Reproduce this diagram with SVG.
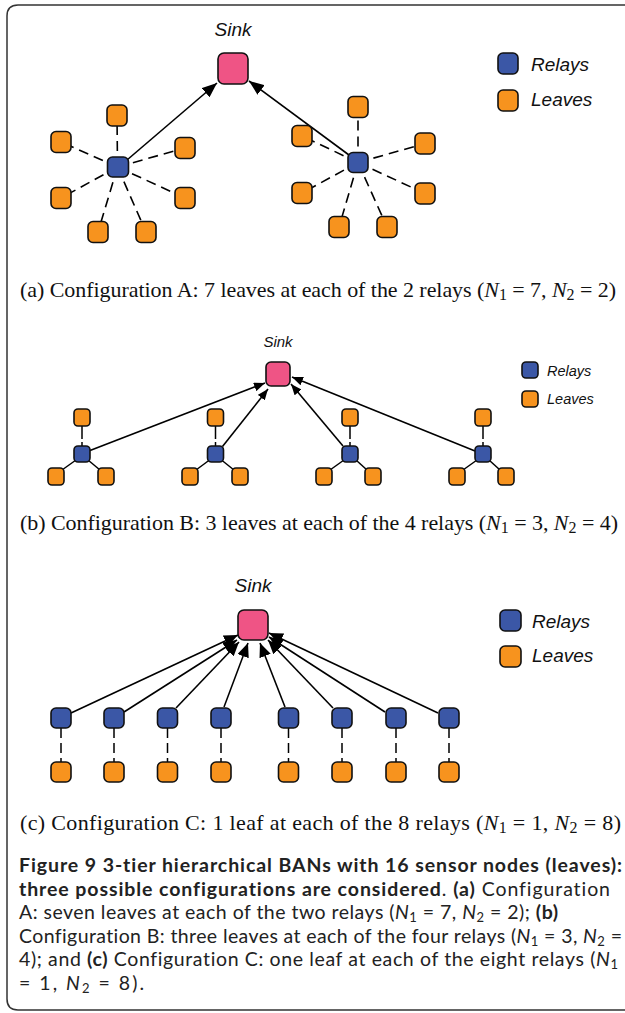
<svg xmlns="http://www.w3.org/2000/svg" width="625" height="1013" viewBox="0 0 625 1013">
<style>
.nd{stroke:#111;stroke-width:1.6}
.sink{fill:#EF5485}
.relay{fill:#3B57A6}
.leaf{fill:#F7931E}
.lbl{font-family:"Liberation Sans",Arial,sans-serif;font-style:italic;fill:#111}
.arr{stroke:#000;stroke-width:1.6;fill:none}
.dash{stroke:#000;stroke-width:1.6;fill:none;stroke-dasharray:10 6}
.sol{stroke:#000;stroke-width:1.5;fill:none}
.sub{font-family:"Liberation Serif","Times New Roman",serif;font-size:22px;fill:#111}
.cap{font-family:Lato,"Open Sans",sans-serif;font-size:19.5px;fill:#222;font-variant-ligatures:none}
.b{font-weight:bold}
.i{font-style:italic}
</style>
<defs>
<marker id="ahA" markerUnits="userSpaceOnUse" markerWidth="15" markerHeight="12" refX="15" refY="6" orient="auto"><path d="M0,0 L15,6 L0,12 z" fill="#000"/></marker>
<marker id="ahB" markerUnits="userSpaceOnUse" markerWidth="11" markerHeight="9" refX="11" refY="4.5" orient="auto"><path d="M0,0 L11,4.5 L0,9 z" fill="#000"/></marker>
<marker id="ahC" markerUnits="userSpaceOnUse" markerWidth="14" markerHeight="12" refX="14" refY="6" orient="auto"><path d="M0,0 L14,6 L0,12 z" fill="#000"/></marker>
</defs>
<rect x="0" y="0" width="625" height="1013" fill="#fff"/>
<path id="frame" d="M626,5 H18 Q7,5 7,16 V999 Q7,1010 18,1010 H626" fill="none" stroke="#333" stroke-width="1.5"/>

<!-- ============ connectors ============ -->
<g id="connectors">
 <!-- panel A dashed -->
 <g class="dash">
  <line x1="117.5" y1="167" x2="117" y2="115.5"/>
  <line x1="117.5" y1="167" x2="61" y2="142"/>
  <line x1="117.5" y1="167" x2="185" y2="148"/>
  <line x1="117.5" y1="167" x2="61" y2="198"/>
  <line x1="117.5" y1="167" x2="185" y2="198"/>
  <line x1="117.5" y1="167" x2="98" y2="232"/>
  <line x1="117.5" y1="167" x2="146" y2="232"/>
  <line x1="358" y1="162.5" x2="358" y2="107"/>
  <line x1="358" y1="162.5" x2="302" y2="136"/>
  <line x1="358" y1="162.5" x2="425" y2="143.5"/>
  <line x1="358" y1="162.5" x2="302" y2="193"/>
  <line x1="358" y1="162.5" x2="425" y2="193.5"/>
  <line x1="358" y1="162.5" x2="339" y2="227"/>
  <line x1="358" y1="162.5" x2="387" y2="227"/>
 </g>
 <line class="arr" x1="127" y1="160" x2="217" y2="83" marker-end="url(#ahA)"/>
 <line class="arr" x1="349" y1="155" x2="249" y2="81" marker-end="url(#ahA)"/>

 <!-- panel B -->
 <g class="sol">
  <line x1="82" y1="425" x2="82" y2="446" stroke-dasharray="14 3"/>
  <line x1="76" y1="460" x2="62" y2="470"/>
  <line x1="88" y1="460" x2="100" y2="470"/>
  <line x1="215.5" y1="425" x2="215.5" y2="446" stroke-dasharray="14 3"/>
  <line x1="209.5" y1="460" x2="196" y2="470"/>
  <line x1="221.5" y1="460" x2="234" y2="470"/>
  <line x1="350" y1="425" x2="350" y2="446" stroke-dasharray="14 3"/>
  <line x1="344" y1="460" x2="330" y2="470"/>
  <line x1="356" y1="460" x2="367" y2="470"/>
  <line x1="483" y1="425" x2="483" y2="446" stroke-dasharray="14 3"/>
  <line x1="477" y1="460" x2="463" y2="470"/>
  <line x1="489" y1="460" x2="500" y2="470"/>
 </g>
 <line class="arr" x1="90" y1="450.5" x2="265" y2="383" marker-end="url(#ahB)"/>
 <line class="arr" x1="222.5" y1="446.5" x2="268" y2="389" marker-end="url(#ahB)"/>
 <line class="arr" x1="343" y1="446" x2="291" y2="384" marker-end="url(#ahB)"/>
 <line class="arr" x1="475" y1="451" x2="292" y2="377" marker-end="url(#ahB)"/>

 <!-- panel C -->
 <g class="sol" stroke-dasharray="10 5">
  <line x1="61" y1="728" x2="61" y2="762"/>
  <line x1="114" y1="728" x2="114" y2="762"/>
  <line x1="167.5" y1="728" x2="167.5" y2="762"/>
  <line x1="221" y1="728" x2="221" y2="762"/>
  <line x1="288.5" y1="728" x2="288.5" y2="762"/>
  <line x1="342" y1="728" x2="342" y2="762"/>
  <line x1="396" y1="728" x2="396" y2="762"/>
  <line x1="449" y1="728" x2="449" y2="762"/>
 </g>
 <line class="arr" x1="71" y1="713" x2="238" y2="635" marker-end="url(#ahC)"/>
 <line class="arr" x1="124" y1="712" x2="237" y2="640" marker-end="url(#ahC)"/>
 <line class="arr" x1="176" y1="708" x2="239" y2="642" marker-end="url(#ahC)"/>
 <line class="arr" x1="224" y1="707" x2="248" y2="643" marker-end="url(#ahC)"/>
 <line class="arr" x1="285" y1="707" x2="260" y2="643" marker-end="url(#ahC)"/>
 <line class="arr" x1="333" y1="708" x2="268" y2="640" marker-end="url(#ahC)"/>
 <line class="arr" x1="385" y1="712" x2="269" y2="637" marker-end="url(#ahC)"/>
 <line class="arr" x1="438" y1="713" x2="269" y2="633" marker-end="url(#ahC)"/>
</g>

<!-- ============ panel A nodes ============ -->
<g id="A-sink"><rect class="nd sink" x="218" y="53" width="30" height="31" rx="6"/><text class="lbl" x="233" y="36" font-size="19" text-anchor="middle">Sink</text></g>
<g id="A-relay1"><rect class="nd relay" x="107.5" y="157" width="21" height="20" rx="5"/></g>
<g id="A-relay2"><rect class="nd relay" x="348" y="152.5" width="20" height="20" rx="5"/></g>
<g id="A-leaves1">
 <rect class="nd leaf" x="107" y="105" width="20" height="21" rx="5"/>
 <rect class="nd leaf" x="51" y="131.5" width="20" height="21" rx="5"/>
 <rect class="nd leaf" x="175" y="137.5" width="20" height="21" rx="5"/>
 <rect class="nd leaf" x="51" y="187.5" width="20" height="21" rx="5"/>
 <rect class="nd leaf" x="175" y="187.5" width="20" height="21" rx="5"/>
 <rect class="nd leaf" x="88" y="221.5" width="20" height="21" rx="5"/>
 <rect class="nd leaf" x="136" y="221.5" width="20" height="21" rx="5"/>
</g>
<g id="A-leaves2">
 <rect class="nd leaf" x="348" y="96.5" width="20" height="21" rx="5"/>
 <rect class="nd leaf" x="292" y="125.5" width="20" height="21" rx="5"/>
 <rect class="nd leaf" x="415" y="133" width="20" height="21" rx="5"/>
 <rect class="nd leaf" x="292" y="182.5" width="20" height="21" rx="5"/>
 <rect class="nd leaf" x="415" y="183" width="20" height="21" rx="5"/>
 <rect class="nd leaf" x="329" y="216.5" width="20" height="21" rx="5"/>
 <rect class="nd leaf" x="377" y="216.5" width="20" height="21" rx="5"/>
</g>
<g id="A-legend">
 <rect class="nd relay" x="498" y="53" width="20" height="21" rx="5"/>
 <text class="lbl" x="531" y="71" font-size="19">Relays</text>
 <rect class="nd leaf" x="498" y="90" width="20" height="21" rx="5"/>
 <text class="lbl" x="531" y="106" font-size="19">Leaves</text>
</g>
<text id="cap-a" class="sub" x="20" y="297" textLength="596" lengthAdjust="spacing">(a) Configuration A: 7 leaves at each of the 2 relays (<tspan class="i">N</tspan><tspan font-size="16" dy="3">1</tspan><tspan dy="-3"> = 7, </tspan><tspan class="i">N</tspan><tspan font-size="16" dy="3">2</tspan><tspan dy="-3"> = 2)</tspan></text>

<!-- ============ panel B nodes ============ -->
<g id="B-sink"><rect class="nd sink" x="266" y="362" width="24" height="24" rx="5"/><text class="lbl" x="278" y="347" font-size="15" text-anchor="middle">Sink</text></g>
<g id="B-cluster1">
 <rect class="nd relay" x="74" y="446" width="16" height="16" rx="4"/>
 <rect class="nd leaf" x="74" y="409" width="16" height="17" rx="4"/>
 <rect class="nd leaf" x="48" y="468" width="16" height="17" rx="4"/>
 <rect class="nd leaf" x="98" y="468" width="16" height="17" rx="4"/>
</g>
<g id="B-cluster2">
 <rect class="nd relay" x="207.5" y="446" width="16" height="16" rx="4"/>
 <rect class="nd leaf" x="207.5" y="409" width="16" height="17" rx="4"/>
 <rect class="nd leaf" x="182" y="468" width="16" height="17" rx="4"/>
 <rect class="nd leaf" x="232" y="468" width="16" height="17" rx="4"/>
</g>
<g id="B-cluster3">
 <rect class="nd relay" x="342" y="446" width="16" height="16" rx="4"/>
 <rect class="nd leaf" x="342" y="409" width="16" height="17" rx="4"/>
 <rect class="nd leaf" x="316" y="468" width="16" height="17" rx="4"/>
 <rect class="nd leaf" x="365" y="468" width="16" height="17" rx="4"/>
</g>
<g id="B-cluster4">
 <rect class="nd relay" x="475" y="446" width="16" height="16" rx="4"/>
 <rect class="nd leaf" x="475" y="409" width="16" height="17" rx="4"/>
 <rect class="nd leaf" x="449" y="468" width="16" height="17" rx="4"/>
 <rect class="nd leaf" x="498" y="468" width="16" height="17" rx="4"/>
</g>
<g id="B-legend">
 <rect class="nd relay" x="522" y="362" width="16" height="16" rx="4"/>
 <text class="lbl" x="547" y="376" font-size="14.5">Relays</text>
 <rect class="nd leaf" x="522" y="391" width="16" height="16" rx="4"/>
 <text class="lbl" x="547" y="404" font-size="14.5">Leaves</text>
</g>
<text id="cap-b" class="sub" x="20" y="530" textLength="598" lengthAdjust="spacing">(b) Configuration B: 3 leaves at each of the 4 relays (<tspan class="i">N</tspan><tspan font-size="16" dy="3">1</tspan><tspan dy="-3"> = 3, </tspan><tspan class="i">N</tspan><tspan font-size="16" dy="3">2</tspan><tspan dy="-3"> = 4)</tspan></text>

<!-- ============ panel C nodes ============ -->
<g id="C-sink"><rect class="nd sink" x="238" y="610" width="30" height="30" rx="6"/><text class="lbl" x="253" y="592" font-size="19" text-anchor="middle">Sink</text></g>
<g id="C-relays">
 <rect class="nd relay" x="51" y="708" width="20" height="20" rx="5"/>
 <rect class="nd relay" x="104" y="708" width="20" height="20" rx="5"/>
 <rect class="nd relay" x="157.5" y="708" width="20" height="20" rx="5"/>
 <rect class="nd relay" x="211" y="708" width="20" height="20" rx="5"/>
 <rect class="nd relay" x="278.5" y="708" width="20" height="20" rx="5"/>
 <rect class="nd relay" x="332" y="708" width="20" height="20" rx="5"/>
 <rect class="nd relay" x="386" y="708" width="20" height="20" rx="5"/>
 <rect class="nd relay" x="439" y="708" width="20" height="20" rx="5"/>
</g>
<g id="C-leaves">
 <rect class="nd leaf" x="51" y="762" width="20" height="20" rx="5"/>
 <rect class="nd leaf" x="104" y="762" width="20" height="20" rx="5"/>
 <rect class="nd leaf" x="157.5" y="762" width="20" height="20" rx="5"/>
 <rect class="nd leaf" x="211" y="762" width="20" height="20" rx="5"/>
 <rect class="nd leaf" x="278.5" y="762" width="20" height="20" rx="5"/>
 <rect class="nd leaf" x="332" y="762" width="20" height="20" rx="5"/>
 <rect class="nd leaf" x="386" y="762" width="20" height="20" rx="5"/>
 <rect class="nd leaf" x="439" y="762" width="20" height="20" rx="5"/>
</g>
<g id="C-legend">
 <rect class="nd relay" x="500" y="610" width="21" height="21" rx="5"/>
 <text class="lbl" x="532" y="628" font-size="19">Relays</text>
 <rect class="nd leaf" x="500" y="646" width="21" height="21" rx="5"/>
 <text class="lbl" x="532" y="662" font-size="19">Leaves</text>
</g>
<text id="cap-c" class="sub" x="20" y="830" textLength="601" lengthAdjust="spacing">(c) Configuration C: 1 leaf at each of the 8 relays (<tspan class="i">N</tspan><tspan font-size="16" dy="3">1</tspan><tspan dy="-3"> = 1, </tspan><tspan class="i">N</tspan><tspan font-size="16" dy="3">2</tspan><tspan dy="-3"> = 8)</tspan></text>

<!-- ============ figure caption ============ -->
<g id="caption" class="cap">
 <text x="19" y="872" class="b" textLength="603" lengthAdjust="spacing">Figure 9 3-tier hierarchical BANs with 16 sensor nodes (leaves):</text>
 <text x="19" y="895.5" textLength="591" lengthAdjust="spacing"><tspan class="b">three possible configurations are considered</tspan>. <tspan class="b">(a)</tspan> Configuration</text>
 <text x="19" y="919" textLength="539" lengthAdjust="spacing">A: seven leaves at each of the two relays (<tspan class="i">N</tspan><tspan font-size="13" dy="3">1</tspan><tspan dy="-3"> = 7, </tspan><tspan class="i">N</tspan><tspan font-size="13" dy="3">2</tspan><tspan dy="-3"> = 2); </tspan><tspan class="b">(b)</tspan></text>
 <text x="19" y="942.5" textLength="603" lengthAdjust="spacing">Configuration B: three leaves at each of the four relays (<tspan class="i">N</tspan><tspan font-size="13" dy="3">1</tspan><tspan dy="-3"> = 3, </tspan><tspan class="i">N</tspan><tspan font-size="13" dy="3">2</tspan><tspan dy="-3"> =</tspan></text>
 <text x="19" y="966" textLength="599" lengthAdjust="spacing">4); and <tspan class="b">(c)</tspan> Configuration C: one leaf at each of the eight relays (<tspan class="i">N</tspan><tspan font-size="13" dy="3">1</tspan></text>
 <text x="19" y="989.5" textLength="125" lengthAdjust="spacing">= 1, <tspan class="i">N</tspan><tspan font-size="13" dy="3">2</tspan><tspan dy="-3"> = 8).</tspan></text>
</g>
</svg>
